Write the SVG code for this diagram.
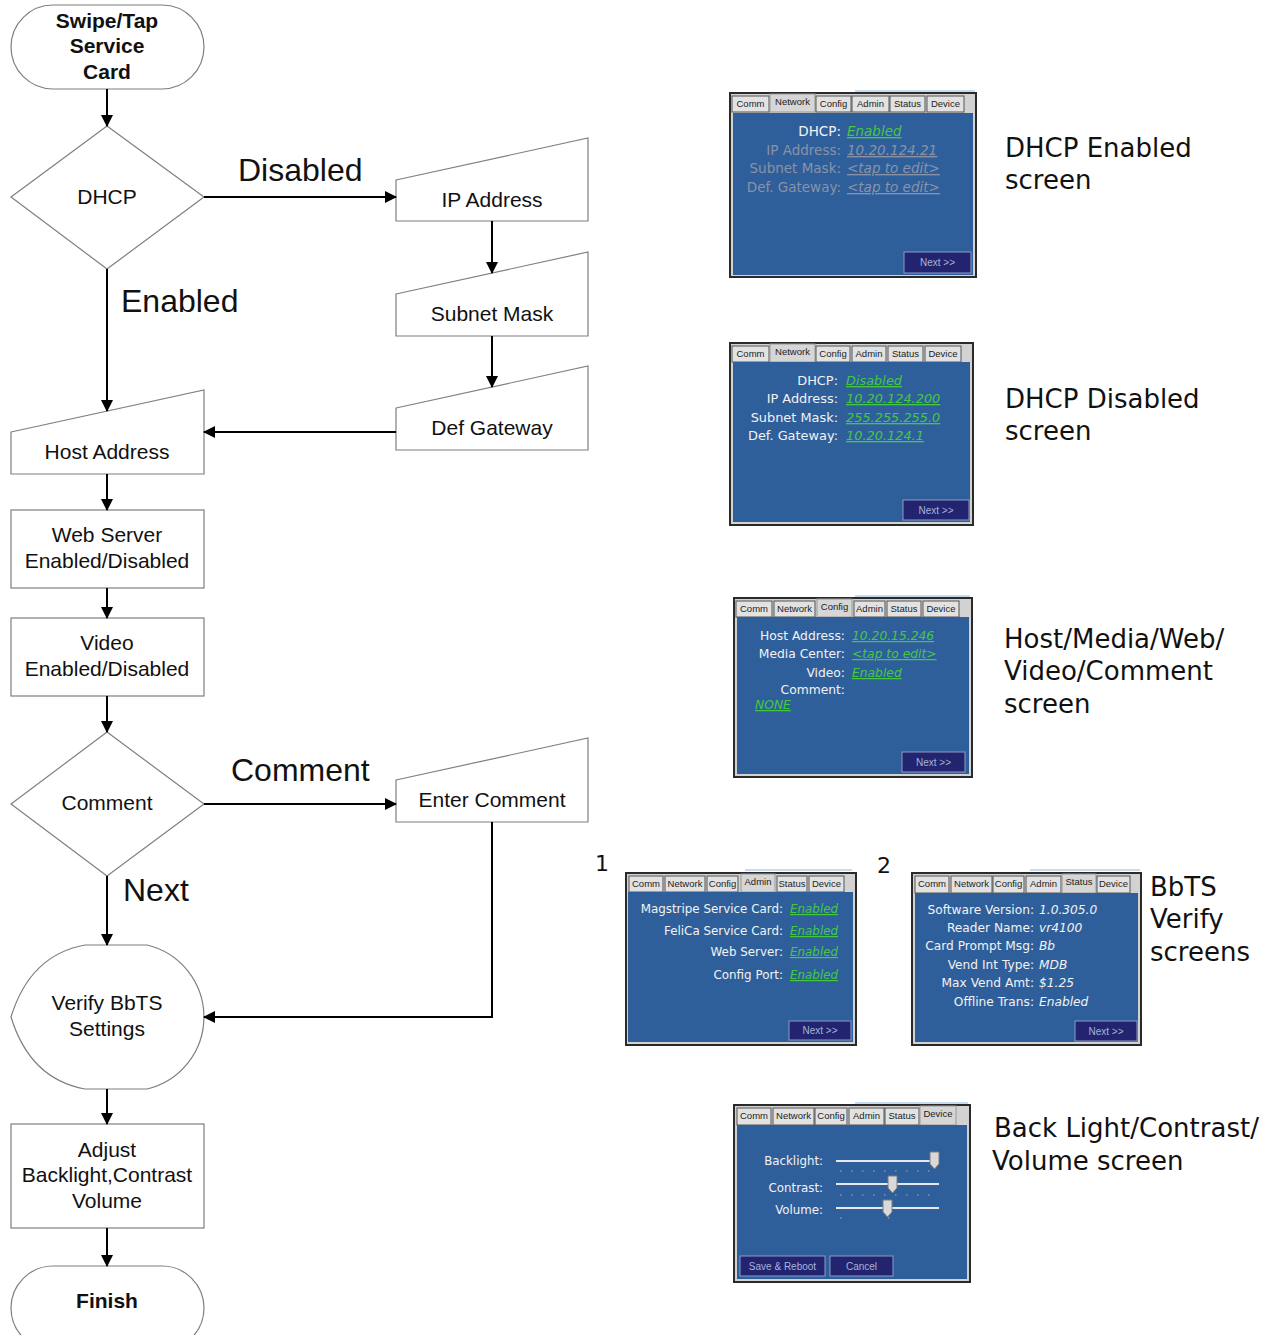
<svg xmlns="http://www.w3.org/2000/svg" width="1267" height="1335" viewBox="0 0 1267 1335">
<defs>
<marker id="arr" markerUnits="userSpaceOnUse" markerWidth="12" markerHeight="12" viewBox="0 0 12 12" refX="11" refY="6" orient="auto">
<path d="M0,0 L12,6 L0,12 z" fill="#000"/>
</marker>
<style>
.nd{fill:#fff;stroke:#7f7f7f;stroke-width:1.2}
.t{font-family:"Liberation Sans",Arial,sans-serif;font-size:21px;fill:#111;text-anchor:middle}
.tb{font-family:"Liberation Sans",Arial,sans-serif;font-size:21px;font-weight:bold;fill:#111;text-anchor:middle}
.lbl{font-family:"Liberation Sans",Arial,sans-serif;font-size:32px;fill:#111}
.cap{font-family:"DejaVu Sans",Verdana,sans-serif;font-size:26px;fill:#111}
.cn{fill:none;stroke:#000;stroke-width:2}
.outer{fill:#d2d2d2;stroke:#2a2a2a;stroke-width:2}
.panel{fill:#2f5f9b}
.tab{fill:#e2e2e2;stroke:#555;stroke-width:1}
.tabs{fill:#d6d6d6;stroke:#999;stroke-width:1}
.tt{font-family:"Liberation Sans",Arial,sans-serif;font-size:9.5px;fill:#222;text-anchor:middle}
.sl{font-family:"DejaVu Sans",Verdana,sans-serif;fill:#f2f2f2;text-anchor:end}
.sg{font-family:"DejaVu Sans",Verdana,sans-serif;fill:#8a93a6;text-anchor:end}
.vg{font-family:"DejaVu Sans",Verdana,sans-serif;fill:#44c844;font-style:italic;text-decoration:underline}
.vd{font-family:"DejaVu Sans",Verdana,sans-serif;fill:#8a93a6;font-style:italic;text-decoration:underline}
.vw{font-family:"DejaVu Sans",Verdana,sans-serif;fill:#f2f2f2;font-style:italic}
.btn{fill:#222470;stroke:#8d9cc4;stroke-width:1}
.bt{font-family:"Liberation Sans",Arial,sans-serif;font-size:10px;fill:#a9b3d9;text-anchor:middle}
.hl{stroke:#c6dbf0;stroke-width:2}
.track{stroke:#e4e8ee;stroke-width:2}
.tick{stroke:#7f93b8;stroke-width:1.5;stroke-dasharray:1.5 9.5}
.thumb{fill:#d9d9d9;stroke:#7d7d7d;stroke-width:1}
</style>
</defs>

<!-- Flowchart nodes -->
<g id="start">
<rect class="nd" x="11" y="5" width="193" height="84" rx="42" ry="42"/>
<text class="tb" x="107" y="28">Swipe/Tap</text>
<text class="tb" x="107" y="53">Service</text>
<text class="tb" x="107" y="79">Card</text>
</g>
<g id="dhcp">
<polygon class="nd" points="107,126 204,197 107,269 11,197"/>
<text class="t" x="107" y="204">DHCP</text>
</g>
<g id="ip-address">
<polygon class="nd" points="396,180 588,138 588,221 396,221"/>
<text class="t" x="492" y="207">IP Address</text>
</g>
<g id="subnet-mask">
<polygon class="nd" points="396,294 588,252 588,336 396,336"/>
<text class="t" x="492" y="321">Subnet Mask</text>
</g>
<g id="def-gateway">
<polygon class="nd" points="396,408 588,366 588,450 396,450"/>
<text class="t" x="492" y="435">Def Gateway</text>
</g>
<g id="host-address">
<polygon class="nd" points="11,432 204,390 204,474 11,474"/>
<text class="t" x="107" y="459">Host Address</text>
</g>
<g id="web-server">
<rect class="nd" x="11" y="510" width="193" height="78"/>
<text class="t" x="107" y="542">Web Server</text>
<text class="t" x="107" y="568">Enabled/Disabled</text>
</g>
<g id="video">
<rect class="nd" x="11" y="618" width="193" height="78"/>
<text class="t" x="107" y="650">Video</text>
<text class="t" x="107" y="676">Enabled/Disabled</text>
</g>
<g id="comment">
<polygon class="nd" points="107,732 204,804 107,876 11,804"/>
<text class="t" x="107" y="810">Comment</text>
</g>
<g id="enter-comment">
<polygon class="nd" points="396,780 588,738 588,822 396,822"/>
<text class="t" x="492" y="807">Enter Comment</text>
</g>
<g id="verify">
<path class="nd" d="M147,945 L85,945 Q30,955 11,1017 Q30,1079 85,1089 L147,1089 A74,74 0 0 0 147,945 Z"/>
<text class="t" x="107" y="1010">Verify BbTS</text>
<text class="t" x="107" y="1036">Settings</text>
</g>
<g id="adjust">
<rect class="nd" x="11" y="1124" width="193" height="104"/>
<text class="t" x="107" y="1157">Adjust</text>
<text class="t" x="107" y="1182">Backlight,Contrast</text>
<text class="t" x="107" y="1208">Volume</text>
</g>
<g id="finish">
<rect class="nd" x="11" y="1266" width="193" height="84" rx="42" ry="42"/>
<text class="tb" x="107" y="1308">Finish</text>
</g>

<!-- Connectors -->
<g id="connectors">
<line class="cn" x1="107" y1="89" x2="107" y2="126" marker-end="url(#arr)"/>
<line class="cn" x1="204" y1="197" x2="396" y2="197" marker-end="url(#arr)"/>
<line class="cn" x1="492" y1="221" x2="492" y2="273" marker-end="url(#arr)"/>
<line class="cn" x1="492" y1="336" x2="492" y2="387" marker-end="url(#arr)"/>
<line class="cn" x1="396" y1="432" x2="204" y2="432" marker-end="url(#arr)"/>
<line class="cn" x1="107" y1="269" x2="107" y2="411" marker-end="url(#arr)"/>
<line class="cn" x1="107" y1="474" x2="107" y2="510" marker-end="url(#arr)"/>
<line class="cn" x1="107" y1="588" x2="107" y2="618" marker-end="url(#arr)"/>
<line class="cn" x1="107" y1="696" x2="107" y2="732" marker-end="url(#arr)"/>
<line class="cn" x1="204" y1="804" x2="396" y2="804" marker-end="url(#arr)"/>
<polyline class="cn" points="492,822 492,1017 204,1017" marker-end="url(#arr)"/>
<line class="cn" x1="107" y1="876" x2="107" y2="945" marker-end="url(#arr)"/>
<line class="cn" x1="107" y1="1089" x2="107" y2="1124" marker-end="url(#arr)"/>
<line class="cn" x1="107" y1="1228" x2="107" y2="1266" marker-end="url(#arr)"/>
<text class="lbl" x="238" y="181">Disabled</text>
<text class="lbl" x="121" y="312">Enabled</text>
<text class="lbl" x="231" y="781">Comment</text>
<text class="lbl" x="123" y="901">Next</text>
</g>

<!-- Screen 1: DHCP Enabled -->
<g id="screen-dhcp-enabled" font-size="13.5">
<line class="hl" x1="855" y1="91" x2="975" y2="91"/>
<rect class="outer" x="730" y="93" width="246" height="184"/>
<rect class="tab" x="732" y="96" width="37" height="16"/>
<rect class="tabs" x="770" y="94" width="45" height="18"/>
<rect class="tab" x="816" y="96" width="35" height="16"/>
<rect class="tab" x="852" y="96" width="37" height="16"/>
<rect class="tab" x="890" y="96" width="35" height="16"/>
<rect class="tab" x="927" y="96" width="37" height="16"/>
<text class="tt" x="750.5" y="107">Comm</text>
<text class="tt" x="792.5" y="105">Network</text>
<text class="tt" x="833.5" y="107">Config</text>
<text class="tt" x="870.5" y="107">Admin</text>
<text class="tt" x="907.5" y="107">Status</text>
<text class="tt" x="945.5" y="107">Device</text>
<rect class="panel" x="733" y="113" width="240" height="162"/>
<text class="sl" x="841" y="136">DHCP:</text>
<text class="vg" x="847" y="136">Enabled</text>
<text class="sg" x="841" y="155">IP Address:</text>
<text class="vd" x="847" y="155">10.20.124.21</text>
<text class="sg" x="841" y="173">Subnet Mask:</text>
<text class="vd" x="847" y="173">&lt;tap to edit&gt;</text>
<text class="sg" x="841" y="192">Def. Gateway:</text>
<text class="vd" x="847" y="192">&lt;tap to edit&gt;</text>
<rect class="btn" x="904" y="252" width="67" height="21"/>
<text class="bt" x="937.5" y="266">Next &gt;&gt;</text>
</g>
<text class="cap" x="1005" y="157">DHCP Enabled</text>
<text class="cap" x="1005" y="189">screen</text>

<!-- Screen 2: DHCP Disabled -->
<g id="screen-dhcp-disabled" font-size="12.9">
<rect class="outer" x="730" y="343" width="243" height="182"/>
<rect class="tab" x="732" y="346" width="37" height="16"/>
<rect class="tabs" x="770" y="344" width="45" height="18"/>
<rect class="tab" x="816" y="346" width="34" height="16"/>
<rect class="tab" x="852" y="346" width="34" height="16"/>
<rect class="tab" x="888" y="346" width="35" height="16"/>
<rect class="tab" x="925" y="346" width="36" height="16"/>
<text class="tt" x="750.5" y="357">Comm</text>
<text class="tt" x="792.5" y="355">Network</text>
<text class="tt" x="833" y="357">Config</text>
<text class="tt" x="869" y="357">Admin</text>
<text class="tt" x="905.5" y="357">Status</text>
<text class="tt" x="943" y="357">Device</text>
<rect class="panel" x="733" y="362" width="237" height="160"/>
<text class="sl" x="838" y="385">DHCP:</text>
<text class="vg" x="846" y="385">Disabled</text>
<text class="sl" x="838" y="403">IP Address:</text>
<text class="vg" x="846" y="403">10.20.124.200</text>
<text class="sl" x="838" y="422">Subnet Mask:</text>
<text class="vg" x="846" y="422">255.255.255.0</text>
<text class="sl" x="838" y="440">Def. Gateway:</text>
<text class="vg" x="846" y="440">10.20.124.1</text>
<rect class="btn" x="903" y="500" width="66" height="20"/>
<text class="bt" x="936" y="514">Next &gt;&gt;</text>
</g>
<text class="cap" x="1005" y="408">DHCP Disabled</text>
<text class="cap" x="1005" y="440">screen</text>

<!-- Screen 3: Host/Media/Web/Video/Comment -->
<g id="screen-host" font-size="12.3">
<line class="hl" x1="855" y1="596" x2="970" y2="596"/>
<rect class="outer" x="734" y="598" width="238" height="179"/>
<rect class="tab" x="736" y="601" width="36" height="16"/>
<rect class="tab" x="774" y="601" width="41" height="16"/>
<rect class="tabs" x="817" y="599" width="35" height="18"/>
<rect class="tab" x="854" y="601" width="31" height="16"/>
<rect class="tab" x="887" y="601" width="34" height="16"/>
<rect class="tab" x="923" y="601" width="36" height="16"/>
<text class="tt" x="754" y="612">Comm</text>
<text class="tt" x="794.5" y="612">Network</text>
<text class="tt" x="834.5" y="610">Config</text>
<text class="tt" x="869.5" y="612">Admin</text>
<text class="tt" x="904" y="612">Status</text>
<text class="tt" x="941" y="612">Device</text>
<rect class="panel" x="737" y="617" width="232" height="157"/>
<text class="sl" x="845" y="640">Host Address:</text>
<text class="vg" x="852" y="640">10.20.15.246</text>
<text class="sl" x="845" y="658">Media Center:</text>
<text class="vg" x="852" y="658">&lt;tap to edit&gt;</text>
<text class="sl" x="845" y="677">Video:</text>
<text class="vg" x="852" y="677">Enabled</text>
<text class="sl" x="845" y="694">Comment:</text>
<text class="vg" x="755" y="709">NONE</text>
<rect class="btn" x="902" y="752" width="63" height="20"/>
<text class="bt" x="933.5" y="766">Next &gt;&gt;</text>
</g>
<text class="cap" x="1004" y="648">Host/Media/Web/</text>
<text class="cap" x="1004" y="680">Video/Comment</text>
<text class="cap" x="1004" y="713">screen</text>

<!-- Screen 4: Verify 1 -->
<text class="cap" x="595" y="871" style="font-size:22px">1</text>
<g id="screen-verify-1" font-size="11.9">
<line class="hl" x1="745" y1="870" x2="852" y2="870"/>
<rect class="outer" x="626" y="873" width="230" height="172"/>
<rect class="tab" x="629" y="876" width="34" height="16"/>
<rect class="tab" x="665" y="876" width="40" height="16"/>
<rect class="tab" x="707" y="876" width="31" height="16"/>
<rect class="tabs" x="741" y="874" width="34" height="18"/>
<rect class="tab" x="777" y="876" width="30" height="16"/>
<rect class="tab" x="809" y="876" width="35" height="16"/>
<text class="tt" x="646" y="887">Comm</text>
<text class="tt" x="685" y="887">Network</text>
<text class="tt" x="722.5" y="887">Config</text>
<text class="tt" x="758" y="885">Admin</text>
<text class="tt" x="792" y="887">Status</text>
<text class="tt" x="826.5" y="887">Device</text>
<rect class="panel" x="628" y="892" width="225" height="150"/>
<text class="sl" x="783" y="913">Magstripe Service Card:</text>
<text class="vg" x="790" y="913">Enabled</text>
<text class="sl" x="783" y="935">FeliCa Service Card:</text>
<text class="vg" x="790" y="935">Enabled</text>
<text class="sl" x="783" y="956">Web Server:</text>
<text class="vg" x="790" y="956">Enabled</text>
<text class="sl" x="783" y="979">Config Port:</text>
<text class="vg" x="790" y="979">Enabled</text>
<rect class="btn" x="789" y="1021" width="62" height="19"/>
<text class="bt" x="820" y="1034">Next &gt;&gt;</text>
</g>

<!-- Screen 5: Verify 2 -->
<text class="cap" x="877" y="873" style="font-size:22px">2</text>
<g id="screen-verify-2" font-size="12.2">
<line class="hl" x1="1030" y1="870" x2="1140" y2="870"/>
<rect class="outer" x="912" y="873" width="229" height="172"/>
<rect class="tab" x="915" y="876" width="34" height="17"/>
<rect class="tab" x="951" y="876" width="41" height="17"/>
<rect class="tab" x="993" y="876" width="31" height="17"/>
<rect class="tab" x="1026" y="876" width="35" height="17"/>
<rect class="tabs" x="1062" y="874" width="34" height="19"/>
<rect class="tab" x="1097" y="876" width="33" height="17"/>
<text class="tt" x="932" y="887">Comm</text>
<text class="tt" x="971.5" y="887">Network</text>
<text class="tt" x="1008.5" y="887">Config</text>
<text class="tt" x="1043.5" y="887">Admin</text>
<text class="tt" x="1079" y="885">Status</text>
<text class="tt" x="1113.5" y="887">Device</text>
<rect class="panel" x="915" y="893" width="223" height="149"/>
<text class="sl" x="1034" y="914">Software Version:</text>
<text class="vw" x="1039" y="914">1.0.305.0</text>
<text class="sl" x="1034" y="932">Reader Name:</text>
<text class="vw" x="1039" y="932">vr4100</text>
<text class="sl" x="1034" y="950">Card Prompt Msg:</text>
<text class="vw" x="1039" y="950">Bb</text>
<text class="sl" x="1034" y="969">Vend Int Type:</text>
<text class="vw" x="1039" y="969">MDB</text>
<text class="sl" x="1034" y="987">Max Vend Amt:</text>
<text class="vw" x="1039" y="987">$1.25</text>
<text class="sl" x="1034" y="1006">Offline Trans:</text>
<text class="vw" x="1039" y="1006">Enabled</text>
<rect class="btn" x="1075" y="1021" width="62" height="20"/>
<text class="bt" x="1106" y="1035">Next &gt;&gt;</text>
</g>
<text class="cap" x="1150" y="896">BbTS</text>
<text class="cap" x="1150" y="928">Verify</text>
<text class="cap" x="1150" y="961">screens</text>

<!-- Screen 6: Device -->
<g id="screen-device" font-size="11.8">
<line class="hl" x1="855" y1="1103" x2="968" y2="1103"/>
<rect class="outer" x="734" y="1105" width="236" height="177"/>
<rect class="tab" x="737" y="1108" width="34" height="17"/>
<rect class="tab" x="773" y="1108" width="41" height="17"/>
<rect class="tab" x="815" y="1108" width="32" height="17"/>
<rect class="tab" x="849" y="1108" width="35" height="17"/>
<rect class="tab" x="885" y="1108" width="34" height="17"/>
<rect class="tabs" x="920" y="1106" width="36" height="19"/>
<text class="tt" x="754" y="1119">Comm</text>
<text class="tt" x="793.5" y="1119">Network</text>
<text class="tt" x="831" y="1119">Config</text>
<text class="tt" x="866.5" y="1119">Admin</text>
<text class="tt" x="902" y="1119">Status</text>
<text class="tt" x="938" y="1117">Device</text>
<rect class="panel" x="737" y="1125" width="230" height="154"/>
<text class="sl" x="823" y="1165">Backlight:</text>
<text class="sl" x="823" y="1192">Contrast:</text>
<text class="sl" x="823" y="1214">Volume:</text>
<line class="track" x1="836" y1="1161" x2="939" y2="1161"/>
<line class="tick" x1="840" y1="1171" x2="936" y2="1171"/>
<path class="thumb" d="M930,1152 h9 v12 l-4.5,5 l-4.5,-5 z"/>
<line class="track" x1="836" y1="1184" x2="939" y2="1184"/>
<line class="tick" x1="840" y1="1195" x2="936" y2="1195"/>
<path class="thumb" d="M888,1176 h9 v12 l-4.5,5 l-4.5,-5 z"/>
<line class="track" x1="836" y1="1208" x2="939" y2="1208"/>
<line class="tick" x1="840" y1="1218" x2="936" y2="1218" style="stroke-dasharray:1.5 46.5"/>
<path class="thumb" d="M883,1200 h9 v12 l-4.5,5 l-4.5,-5 z"/>
<rect class="btn" x="740" y="1256" width="85" height="20"/>
<text class="bt" x="782.5" y="1270">Save &amp; Reboot</text>
<rect class="btn" x="830" y="1256" width="63" height="20"/>
<text class="bt" x="861.5" y="1270">Cancel</text>
</g>
<text class="cap" x="994" y="1137">Back Light/Contrast/</text>
<text class="cap" x="992" y="1170">Volume screen</text>
</svg>
